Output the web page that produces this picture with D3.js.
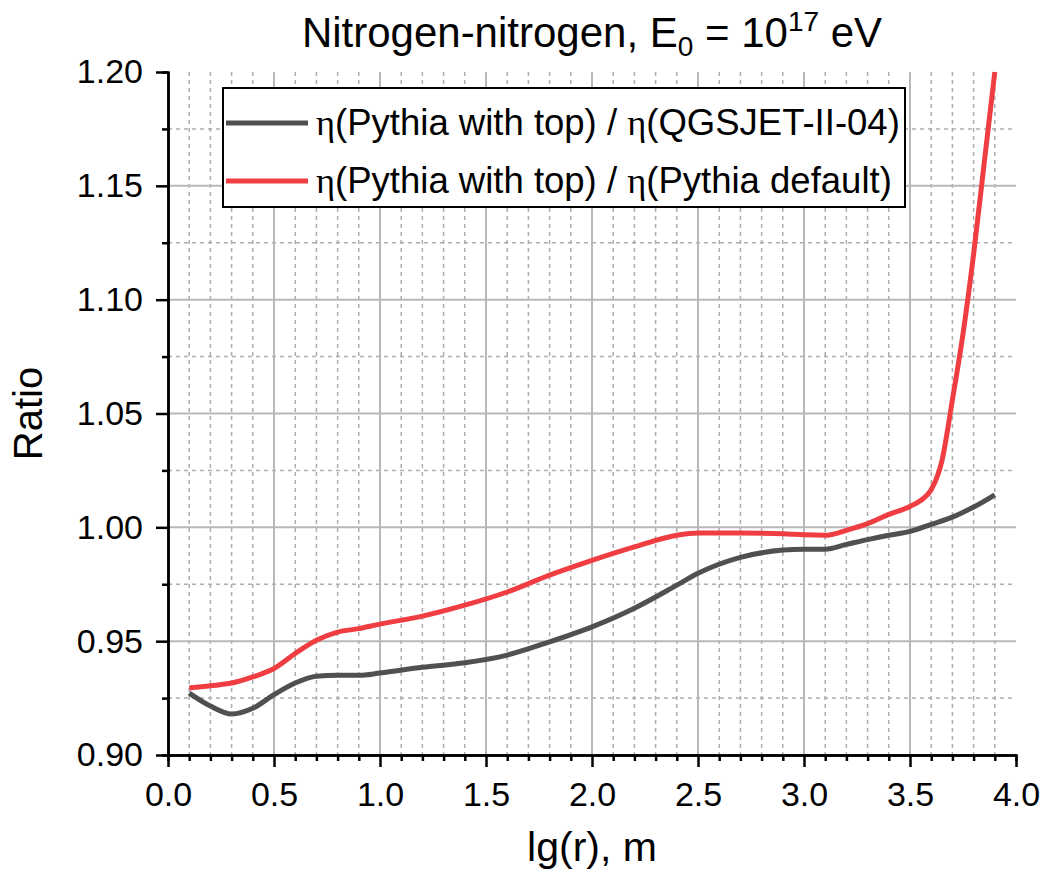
<!DOCTYPE html>
<html>
<head>
<meta charset="utf-8">
<script src="https://cdn.jsdelivr.net/npm/d3@7"></script>
<style>
  body { margin: 0; background: #fff; }
  text { font-family: "Liberation Sans", Arial, sans-serif; fill: #000; }
</style>
</head>
<body>
<div class="chart"></div>
<script>
// ratio curves
var qgsX = [0.1, 0.2, 0.3, 0.4, 0.5, 0.6, 0.7, 0.8, 0.9, 1.0, 1.2, 1.4, 1.6, 1.8, 2.0, 2.2, 2.4, 2.5, 2.7, 2.9, 3.0, 3.1, 3.2, 3.3, 3.4, 3.5, 3.6, 3.7, 3.8, 3.9];
var qgsY = [0.9272, 0.9215, 0.918, 0.9205, 0.9265, 0.9316, 0.9346, 0.935, 0.935, 0.936, 0.9385, 0.9405, 0.9439, 0.9497, 0.9563, 0.9645, 0.9746, 0.9798, 0.9868, 0.99, 0.9904, 0.9904, 0.9925, 0.9946, 0.9965, 0.9982, 1.0013, 1.0045, 1.0089, 1.0143];

var defX = [0.1, 0.2, 0.3, 0.4, 0.5, 0.6, 0.7, 0.8, 0.9, 1.0, 1.2, 1.4, 1.6, 1.8, 2.0, 2.2, 2.4, 2.5, 2.7, 2.9, 3.0, 3.1, 3.2, 3.3, 3.4, 3.5, 3.55, 3.6, 3.65, 3.7, 3.75, 3.8, 3.85, 3.9];
var defY = [0.9294, 0.9304, 0.9316, 0.9343, 0.938, 0.9446, 0.9504, 0.954, 0.9555, 0.9575, 0.961, 0.9658, 0.9716, 0.979, 0.9855, 0.9914, 0.9965, 0.9975, 0.9975, 0.9972, 0.9967, 0.9965, 0.9987, 1.0016, 1.0057, 1.0092, 1.0118, 1.0165, 1.029, 1.056, 1.085, 1.12, 1.16, 1.2];

var xMajor = [0.0, 0.5, 1.0, 1.5, 2.0, 2.5, 3.0, 3.5, 4.0];
var yMajor = [0.90, 0.95, 1.00, 1.05, 1.10, 1.15, 1.20];
var xMinor = d3.range(1, 40).map(function(i) { return i / 10; }).filter(function(v) { return Math.round(v * 10) % 5 !== 0; });
var yMinor = [0.925, 0.975, 1.025, 1.075, 1.125, 1.175];

var seriesNames = ["(Pythia with top) / ", "(Pythia with top) / "];
var seriesTails = ["(QGSJET-II-04)", "(Pythia default)"];
var seriesColors = ["#505050", "#ef3d42"];

var svgWidth = 1047;
var svgHeight = 872;
var margin = { top: 72, right: 31, bottom: 117, left: 168 };
var width = svgWidth - margin.left - margin.right;
var height = svgHeight - margin.top - margin.bottom;

var svg = d3.select(".chart")
    .append("svg")
    .attr("width", svgWidth)
    .attr("height", svgHeight);

var chart = svg.append("g")
    .attr("transform", "translate(" + margin.left + "," + margin.top + ")");

var xScale = d3.scaleLinear().domain([0, 4]).range([0, width]);
var yScale = d3.scaleLinear().domain([0.9, 1.2]).range([height, 0]);

// grid: minor dotted, major solid
var grid = chart.append("g");
grid.selectAll(".vminor").data(xMinor).enter().append("line")
    .attr("x1", function(d) { return xScale(d); })
    .attr("x2", function(d) { return xScale(d); })
    .attr("y1", 0).attr("y2", height)
    .attr("stroke", "#adadad").attr("stroke-width", 1.5).attr("stroke-dasharray", "4,4");
grid.selectAll(".hminor").data(yMinor).enter().append("line")
    .attr("y1", function(d) { return yScale(d); })
    .attr("y2", function(d) { return yScale(d); })
    .attr("x1", 0).attr("x2", width)
    .attr("stroke", "#adadad").attr("stroke-width", 1.5).attr("stroke-dasharray", "4,4");
grid.selectAll(".vmajor").data(xMajor.slice(1, -1)).enter().append("line")
    .attr("x1", function(d) { return xScale(d); })
    .attr("x2", function(d) { return xScale(d); })
    .attr("y1", 0).attr("y2", height)
    .attr("stroke", "#b8b8b8").attr("stroke-width", 2);
grid.selectAll(".hmajor").data(yMajor.slice(1, -1)).enter().append("line")
    .attr("y1", function(d) { return yScale(d); })
    .attr("y2", function(d) { return yScale(d); })
    .attr("x1", 0).attr("x2", width)
    .attr("stroke", "#b8b8b8").attr("stroke-width", 2);

// curves
var line = d3.line()
    .x(function(d) { return xScale(d[0]); })
    .y(function(d) { return yScale(d[1]); })
    .curve(d3.curveMonotoneX);

var series = [d3.zip(qgsX, qgsY), d3.zip(defX, defY)];
series.forEach(function(s, i) {
    chart.append("path")
        .datum(s)
        .attr("d", line)
        .attr("fill", "none")
        .attr("stroke", seriesColors[i])
        .attr("stroke-width", 5)
        .attr("stroke-linejoin", "round");
});

// axes
function styleAxis(g) {
    g.selectAll("path, line").attr("stroke", "#000").attr("stroke-width", 2.5);
    g.selectAll("text").style("font-size", "34px").attr("fill", "#000")
        .style("font-family", "'Liberation Sans', Arial, sans-serif");
}

chart.append("g")
    .attr("transform", "translate(0," + height + ")")
    .call(d3.axisBottom(xScale).tickValues(xMinor).tickSize(6).tickFormat(""))
    .call(styleAxis);
chart.append("g")
    .attr("transform", "translate(0," + height + ")")
    .call(d3.axisBottom(xScale).tickValues(xMajor).tickSize(12).tickSizeOuter(0)
        .tickPadding(15).tickFormat(d3.format(".1f")))
    .call(styleAxis);

chart.append("g")
    .call(d3.axisLeft(yScale).tickValues(yMinor).tickSize(6).tickFormat(""))
    .call(styleAxis);
chart.append("g")
    .call(d3.axisLeft(yScale).tickValues(yMajor).tickSize(12).tickSizeOuter(0)
        .tickPadding(13).tickFormat(d3.format(".2f")))
    .call(styleAxis);

// axis titles
svg.append("text")
    .attr("x", margin.left + width / 2)
    .attr("y", 861)
    .attr("text-anchor", "middle")
    .style("font-size", "41px")
    .text("lg(r), m");

svg.append("text")
    .attr("transform", "translate(42," + (margin.top + height / 2) + ") rotate(-90)")
    .attr("text-anchor", "middle")
    .style("font-size", "40px")
    .text("Ratio");

// title with subscript and superscript
var title = svg.append("text")
    .attr("x", margin.left + width / 2)
    .attr("y", 47)
    .attr("text-anchor", "middle")
    .style("font-size", "42px");
title.append("tspan").text("Nitrogen-nitrogen, E");
title.append("tspan").attr("dy", 9).style("font-size", "28px").text("0");
title.append("tspan").attr("dy", -9).text(" = 10");
title.append("tspan").attr("dy", -16).style("font-size", "28px").text("17");
title.append("tspan").attr("dy", 16).text(" eV");

// legend
var legend = svg.append("g");
legend.append("rect")
    .attr("x", 223).attr("y", 88)
    .attr("width", 682).attr("height", 119)
    .attr("fill", "#fff").attr("stroke", "#000").attr("stroke-width", 2);

seriesNames.forEach(function(name, i) {
    var ly = 123 + i * 58;
    legend.append("line")
        .attr("x1", 226).attr("x2", 308)
        .attr("y1", ly).attr("y2", ly)
        .attr("stroke", seriesColors[i]).attr("stroke-width", 5);
    var t = legend.append("text")
        .attr("x", 316).attr("y", ly + 12)
        .style("font-size", "36.5px");
    t.append("tspan").style("font-family", "'Liberation Serif', serif").text("\u03B7");
    t.append("tspan").text(name);
    t.append("tspan").style("font-family", "'Liberation Serif', serif").text("\u03B7");
    t.append("tspan").text(seriesTails[i]);
});
</script>
</body>
</html>
